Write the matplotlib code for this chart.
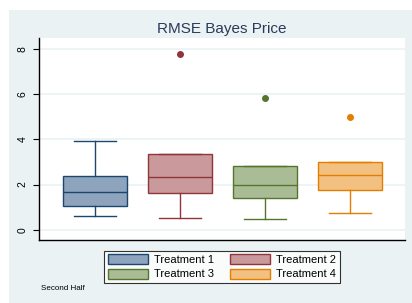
import matplotlib.pyplot as plt
from matplotlib.patches import Rectangle, Patch

plt.rcParams['font.family'] = ['Liberation Sans', 'DejaVu Sans']

labels = ['Treatment 1', 'Treatment 2', 'Treatment 3', 'Treatment 4']
q1 = [1.04, 1.62, 1.39, 1.76]
med = [1.69, 2.33, 1.96, 2.43]
q3 = [2.37, 3.36, 2.83, 2.98]
wlo = [0.60, 0.52, 0.47, 0.74]
whi = [3.91, 3.36, 2.83, 2.98]
outliers = [[], [7.78], [5.82], [4.98]]

edge = ['#1a476f', '#90353b', '#55752f', '#e37e00']
face = ['#8ea4bd', '#c9999c', '#aabc95', '#f2c080']
bg = '#eaf2f3'

fig = plt.figure(figsize=(4.12, 3.03), dpi=100)
fig.patch.set_facecolor('white')
fig.patches.append(Rectangle((9 / 412, 0), 1, 1 - 10 / 303, transform=fig.transFigure,
                             facecolor=bg, edgecolor='none', zorder=-10))

ax = fig.add_axes([39 / 412, 1 - 240 / 303, 366 / 412, 202 / 303])
ax.set_facecolor('white')

for i in range(4):
    s = dict(med=med[i], q1=q1[i], q3=q3[i], whislo=wlo[i], whishi=whi[i],
             fliers=outliers[i], label=labels[i])
    ax.bxp([s], positions=[i + 1], widths=0.76, patch_artist=True, showfliers=True,
           boxprops=dict(facecolor=face[i], edgecolor=edge[i], linewidth=1.0),
           medianprops=dict(color=edge[i], linewidth=1.0),
           whiskerprops=dict(color=edge[i], linewidth=1.0),
           capprops=dict(color=edge[i], linewidth=1.0),
           capwidths=0.5,
           flierprops=dict(marker='o', markersize=4, markerfacecolor=edge[i],
                           markeredgecolor=edge[i]))

ax.set_xlim(0.34, 4.65)
ax.set_ylim(-0.46, 8.5)
ax.set_xticks([])
ax.set_yticks([0, 2, 4, 6, 8])
ax.set_yticklabels(['0', '2', '4', '6', '8'], rotation=90, va='center', fontsize=7.5)
ax.tick_params(axis='y', length=4, width=0.8, pad=4)
ax.yaxis.grid(True, color=bg, linewidth=1.2)
ax.set_axisbelow(True)
for sp in ['top', 'right']:
    ax.spines[sp].set_visible(False)
ax.spines['left'].set_linewidth(1.0)
ax.spines['bottom'].set_linewidth(1.0)

fig.text(222 / 412, 1 - 29 / 303, 'RMSE Bayes Price', ha='center', va='center',
         fontsize=11, color='#2a3a5a')

# row-major order like the original: 1 2 / 3 4
order = [0, 2, 1, 3]
handles = [Patch(facecolor=face[i], edgecolor=edge[i], label=labels[i]) for i in order]
leg = fig.legend(handles=handles, ncol=2, loc='upper center',
                 bbox_to_anchor=(222 / 412, 1 - 245 / 303), fontsize=8,
                 frameon=True, fancybox=False, edgecolor='black',
                 handlelength=3.6, handleheight=1.0, columnspacing=1.4,
                 handletextpad=0.6, labelspacing=0.3, borderpad=0.35)
leg.get_frame().set_linewidth(0.8)

fig.text(41 / 412, 1 - 289 / 303, 'Second Half', ha='left', va='center', fontsize=5.8)

fig.savefig('out.png', dpi=100)
